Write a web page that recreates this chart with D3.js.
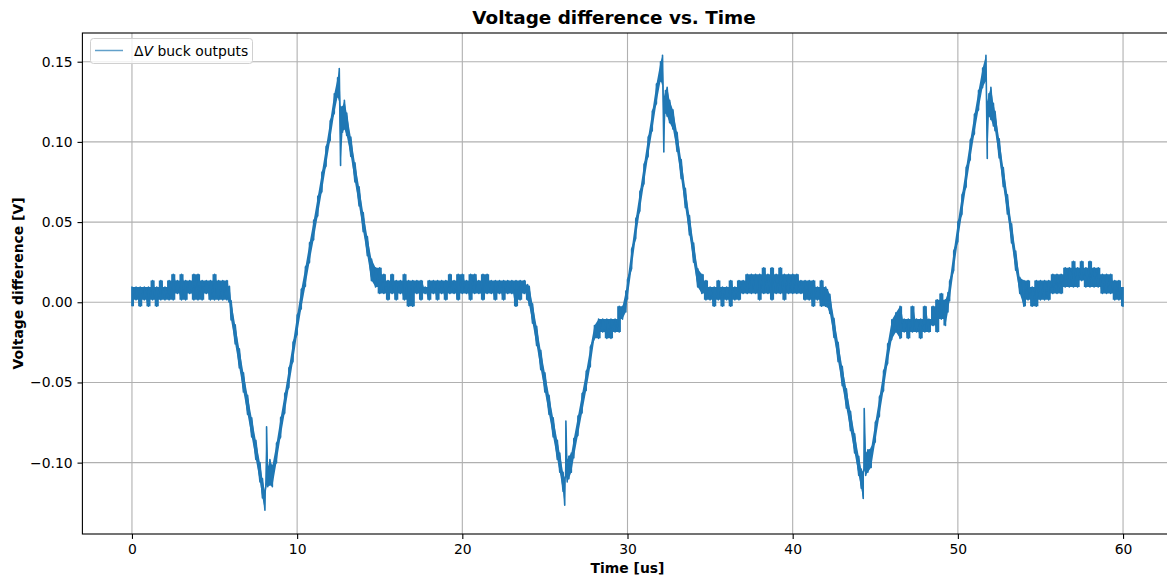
<!DOCTYPE html>
<html lang="en">
<head>
  <meta charset="UTF-8">
  <title>Voltage difference vs. Time</title>
  <style>
    body { margin: 0; background: #fff; }
    svg { font-family: 'DejaVu Sans', sans-serif; display: block; }
  </style>
</head>
<body>
  <svg id="svg" width="1167" height="577"></svg>

  <script src="https://d3js.org/d3.v7.min.js"></script>
  <script>
    // samples: time [us], lower and upper edge of the noise band [V]
    const timeUs = [
      0.00, 0.25, 0.50, 0.75, 1.00, 1.25, 1.50, 1.75, 2.00, 2.25, 2.50, 2.75, 3.00, 3.25, 3.50, 3.75,
      4.00, 4.25, 4.50, 4.75, 5.00, 5.25, 5.50, 5.75, 5.90,
      6.00, 6.25, 6.50, 6.75, 7.00, 7.25, 7.50, 7.75, 7.90, 8.05, 8.15, 8.22, 8.35,
      8.50, 8.75, 9.00, 9.25, 9.50, 9.75, 10.00, 10.25, 10.50, 10.75, 11.00, 11.25, 11.50, 11.75,
      12.00, 12.25, 12.45, 12.55, 12.63, 12.75, 12.86, 13.00,
      13.25, 13.50, 13.75, 14.00, 14.25, 14.50, 14.75,
      15.00, 15.25, 15.50, 15.75, 16.00, 16.25, 16.50, 16.75, 17.00, 17.25, 17.50, 17.75,
      18.00, 18.25, 18.50, 18.75, 19.00, 19.25, 19.50, 19.75, 20.00, 20.25, 20.50, 20.75,
      21.00, 21.25, 21.50, 21.75, 22.00, 22.25, 22.50, 22.75, 23.00, 23.25, 23.50, 23.75, 23.95,
      24.05, 24.25, 24.50, 24.75, 25.00, 25.25, 25.50, 25.75, 25.90, 26.10, 26.20, 26.27, 26.35, 26.45,
      26.60, 26.75, 27.00, 27.25, 27.50, 27.75, 28.00,
      28.25, 28.50, 28.75, 29.00, 29.25, 29.50, 29.70,
      29.90, 30.00, 30.25, 30.50, 30.75, 31.00, 31.25, 31.50, 31.75, 32.00, 32.12, 32.20, 32.30, 32.40, 32.55,
      32.75, 33.00, 33.25, 33.50, 33.75, 34.00, 34.25,
      34.50, 34.75, 35.00, 35.25, 35.50, 35.75, 36.00, 36.25, 36.50, 36.75, 37.00, 37.25, 37.50, 37.75,
      38.00, 38.25, 38.50, 38.75, 39.00, 39.25, 39.50, 39.75, 40.00, 40.25, 40.50, 40.75,
      41.00, 41.25, 41.50, 41.75, 42.00,
      42.10, 42.25, 42.50, 42.75, 43.00, 43.25, 43.50, 43.75, 44.00, 44.15, 44.27, 44.33, 44.42, 44.55,
      44.75, 45.00, 45.25, 45.50, 45.75, 46.00, 46.25,
      46.50, 46.75, 47.00, 47.25, 47.50, 47.75, 48.00, 48.25, 48.50, 48.75, 49.00, 49.25,
      49.40, 49.50, 49.75, 50.00, 50.25, 50.50, 50.75, 51.00, 51.25, 51.50, 51.70, 51.78, 51.88, 52.00, 52.15,
      52.25, 52.50, 52.75, 53.00, 53.25, 53.50, 53.75,
      54.00, 54.25, 54.50, 54.75, 55.00, 55.25, 55.50, 55.75, 56.00, 56.25, 56.50, 56.75,
      57.00, 57.25, 57.50, 57.75, 58.00, 58.25, 58.50, 58.75, 59.00, 59.25, 59.50, 59.75, 60.00
    ]

    const dvLow = [
      -0.0025, 0.0015, -0.0025, 0.0015, -0.0025, 0.0015, -0.0025, 0.0015, 0.0015, 0.0015, 0.0015, 0.0055, 0.0015, 0.0015, 0.0055, 0.0015,
      0.0015, 0.0015, 0.0055, 0.0015, 0.0015, 0.0015, 0.0015, 0.0015, 0.0000,
      -0.011, -0.026, -0.041, -0.056, -0.070, -0.084, -0.098, -0.112, -0.122, -0.1297, -0.112, -0.115, -0.114,
      -0.115, -0.100, -0.084, -0.069, -0.053, -0.037, -0.020, -0.004, 0.010, 0.025, 0.039, 0.054, 0.069, 0.085,
      0.101, 0.118, 0.128, 0.126, 0.0853, 0.106, 0.108, 0.104,
      0.091, 0.075, 0.060, 0.044, 0.029, 0.0135, 0.0095,
      0.0055, 0.0055, 0.0015, 0.0055, 0.0015, 0.0055, 0.0015, -0.0025, -0.0025, 0.0055, 0.0015, 0.0055,
      0.0015, 0.0055, 0.0015, 0.0055, 0.0015, 0.0055, 0.0055, 0.0015, 0.0055, 0.0055, 0.0015, 0.0055,
      0.0055, 0.0015, 0.0055, 0.0055, 0.0015, 0.0055, 0.0015, 0.0055, 0.0055, -0.0025, 0.0015, 0.0055, 0.0015,
      -0.002, -0.013, -0.027, -0.042, -0.056, -0.070, -0.084, -0.098, -0.106, -0.118, -0.1266, -0.108, -0.112, -0.110,
      -0.106, -0.097, -0.083, -0.069, -0.055, -0.040, -0.0225,
      -0.0225, -0.0185, -0.0225, -0.0225, -0.0185, -0.0185, -0.0105,
      -0.006, 0.002, 0.021, 0.040, 0.057, 0.074, 0.091, 0.107, 0.124, 0.138, 0.136, 0.0937, 0.118, 0.116, 0.112,
      0.108, 0.094, 0.077, 0.059, 0.042, 0.025, 0.0095,
      0.0055, 0.0015, 0.0015, -0.0025, 0.0015, -0.0025, 0.0015, -0.0025, 0.0015, 0.0015, 0.0055, 0.0055, 0.0055, 0.0055,
      0.0015, 0.0055, 0.0055, 0.0015, 0.0055, 0.0055, 0.0015, 0.0055, 0.0055, 0.0055, 0.0055, 0.0015,
      0.0015, -0.0025, 0.0015, -0.0025, -0.0025,
      -0.003, -0.007, -0.022, -0.037, -0.052, -0.066, -0.080, -0.094, -0.108, -0.116, -0.1224, -0.104, -0.108, -0.106,
      -0.103, -0.087, -0.071, -0.055, -0.038, -0.023, -0.0185,
      -0.0225, -0.0185, -0.0225, -0.0185, -0.0185, -0.0225, -0.0185, -0.0185, -0.0145, -0.0185, -0.0105, -0.0145,
      -0.006, 0.001, 0.020, 0.038, 0.055, 0.072, 0.089, 0.105, 0.120, 0.134, 0.138, 0.0896, 0.116, 0.114, 0.110,
      0.107, 0.090, 0.072, 0.055, 0.037, 0.020, 0.0055,
      -0.0025, 0.0015, -0.0025, -0.0025, 0.0015, 0.0015, 0.0015, 0.0055, 0.0055, 0.0055, 0.0095, 0.0095,
      0.0095, 0.0095, 0.0135, 0.0095, 0.0095, 0.0095, 0.0095, 0.0055, 0.0055, 0.0055, 0.0015, 0.0015, -0.0025
    ]

    const dvHigh = [
      0.0095, 0.0095, 0.0095, 0.0095, 0.0095, 0.0135, 0.0095, 0.0135, 0.0095, 0.0135, 0.0175, 0.0135, 0.0175, 0.0135, 0.0135, 0.0175,
      0.0175, 0.0135, 0.0135, 0.0135, 0.0175, 0.0135, 0.0135, 0.0135, 0.0100,
      0.001, -0.014, -0.029, -0.044, -0.058, -0.072, -0.086, -0.100, -0.110, -0.118, -0.0777, -0.103, -0.098,
      -0.102, -0.088, -0.072, -0.057, -0.041, -0.025, -0.008, 0.008, 0.022, 0.037, 0.051, 0.066, 0.081, 0.097,
      0.113, 0.130, 0.140, 0.1457, 0.122, 0.122, 0.126, 0.118,
      0.103, 0.087, 0.072, 0.056, 0.041, 0.027, 0.0215,
      0.0215, 0.0175, 0.0135, 0.0175, 0.0135, 0.0135, 0.0175, 0.0135, 0.0135, 0.0135, 0.0135, 0.0095,
      0.0135, 0.0135, 0.0135, 0.0135, 0.0135, 0.0175, 0.0135, 0.0175, 0.0175, 0.0135, 0.0175, 0.0175,
      0.0135, 0.0175, 0.0175, 0.0135, 0.0135, 0.0135, 0.0135, 0.0135, 0.0135, 0.0135, 0.0135, 0.0135, 0.0110,
      0.010, -0.001, -0.015, -0.030, -0.044, -0.058, -0.072, -0.086, -0.094, -0.106, -0.110, -0.074, -0.098, -0.096,
      -0.094, -0.085, -0.071, -0.057, -0.043, -0.028, -0.0145,
      -0.0105, -0.0105, -0.0105, -0.0105, -0.0105, -0.0025, -0.0025,
      0.007, 0.014, 0.033, 0.052, 0.069, 0.086, 0.103, 0.119, 0.136, 0.150, 0.154, 0.128, 0.132, 0.134, 0.126,
      0.120, 0.106, 0.089, 0.071, 0.054, 0.037, 0.021,
      0.0175, 0.0135, 0.0095, 0.0095, 0.0135, 0.0095, 0.0095, 0.0135, 0.0095, 0.0135, 0.0135, 0.0175, 0.0175, 0.0175,
      0.0175, 0.0215, 0.0175, 0.0215, 0.0175, 0.0215, 0.0175, 0.0175, 0.0175, 0.0175, 0.0135, 0.0135,
      0.0135, 0.0135, 0.0095, 0.0135, 0.0095,
      0.008, 0.005, -0.010, -0.025, -0.040, -0.054, -0.068, -0.082, -0.096, -0.104, -0.106, -0.0663, -0.094, -0.092,
      -0.091, -0.075, -0.059, -0.043, -0.026, -0.011, -0.0065,
      -0.0025, -0.0105, -0.0105, -0.0025, -0.0105, -0.0105, -0.0025, -0.0105, -0.0025, 0.0015, 0.0055, 0.0015,
      0.006, 0.013, 0.032, 0.050, 0.067, 0.084, 0.101, 0.117, 0.132, 0.146, 0.154, 0.125, 0.130, 0.134, 0.124,
      0.119, 0.102, 0.084, 0.067, 0.049, 0.032, 0.0155,
      0.0135, 0.0135, 0.0095, 0.0135, 0.0135, 0.0135, 0.0135, 0.0175, 0.0175, 0.0175, 0.0215, 0.0215,
      0.0255, 0.0215, 0.0255, 0.0215, 0.0255, 0.0215, 0.0215, 0.0175, 0.0175, 0.0175, 0.0135, 0.0135, 0.0095
    ]

    // stretches where the trace sits flat in quantisation noise [us]
    const flatSpans = [[0, 5.9], [14.75, 23.95], [28.25, 29.7], [34.5, 42.0], [46.5, 49.25], [54.0, 60.0]]

    const xTicks = [0, 10, 20, 30, 40, 50, 60]
    const yTicks = [-0.10, -0.05, 0.00, 0.05, 0.10, 0.15]

    const margin = { top: 33, left: 82.4, bottom: 534, right: 1172.6 }
    const blue = '#1f77b4'

    const svg = d3.select('#svg')

    const xscale = d3.scaleLinear()
      .domain([-3, 63])
      .range([margin.left, margin.right])

    const yscale = d3.scaleLinear()
      .domain([-0.1445, 0.1679])
      .range([margin.bottom, margin.top])

    // grid
    const grid = svg.append('g')
    grid.selectAll('line.gx')
      .data(xTicks)
      .enter()
      .append('line')
      .attr('x1', d => xscale(d)).attr('x2', d => xscale(d))
      .attr('y1', margin.top).attr('y2', margin.bottom)
      .attr('stroke', '#b0b0b0').attr('stroke-width', 1.1)
    grid.selectAll('line.gy')
      .data(yTicks)
      .enter()
      .append('line')
      .attr('x1', margin.left).attr('x2', margin.right)
      .attr('y1', d => yscale(d)).attr('y2', d => yscale(d))
      .attr('stroke', '#b0b0b0').attr('stroke-width', 1.1)

    // trace: the dense noise fills the band between low and high edge,
    // and a zig-zag across the band at each sample gives the vertical hairlines
    const idx = d3.range(timeUs.length)
    const isFlat = i => i >= 0 && i < timeUs.length &&
      flatSpans.some(([a, b]) => timeUs[i] >= a && timeUs[i] <= b)

    const band = d3.area()
      .x(i => xscale(timeUs[i]))
      .y0(i => yscale(dvLow[i]))
      .y1(i => yscale(dvHigh[i]))

    // flat parts: step band, so single noisy samples stay narrow
    svg.append('path')
      .datum(idx)
      .attr('d', band.defined(i => isFlat(i)).curve(d3.curveStep))
      .attr('fill', blue)

    // edges: straight band between samples
    svg.append('path')
      .datum(idx)
      .attr('d', band.defined(i => !isFlat(i) || !isFlat(i - 1) || !isFlat(i + 1)).curve(d3.curveLinear))
      .attr('fill', blue)

    const pts = []
    idx.forEach(i => {
      pts.push([timeUs[i], dvLow[i]], [timeUs[i], dvHigh[i]])
    })

    const line = d3.line()
      .x(d => xscale(d[0]))
      .y(d => yscale(d[1]))

    svg.append('path')
      .datum(pts)
      .attr('d', line)
      .attr('fill', 'none')
      .attr('stroke', blue)
      .attr('stroke-width', 1.6)
      .attr('stroke-linejoin', 'round')

    // axes
    const bottomAxis = d3.axisBottom(xscale)
      .tickValues(xTicks)
      .tickSize(4.9)
      .tickSizeOuter(0)
      .tickPadding(4.9)
    const gx = svg.append('g')
      .attr('transform', `translate(0, ${margin.bottom})`)
      .call(bottomAxis)

    const leftAxis = d3.axisLeft(yscale)
      .tickValues(yTicks)
      .tickFormat(d3.format('.2f'))
      .tickSize(4.9)
      .tickSizeOuter(0)
      .tickPadding(4.9)
    const gy = svg.append('g')
      .attr('transform', `translate(${margin.left}, 0)`)
      .call(leftAxis)

    for (const g of [gx, gy]) {
      g.select('.domain').remove()
      g.selectAll('.tick line').attr('stroke', '#000').attr('stroke-width', 1.1)
      g.selectAll('.tick text')
        .attr('fill', '#000')
        .style('font-family', 'DejaVu Sans')
        .style('font-size', '13.9px')
    }

    // spines
    svg.append('rect')
      .attr('x', margin.left).attr('y', margin.top)
      .attr('width', margin.right - margin.left)
      .attr('height', margin.bottom - margin.top)
      .attr('fill', 'none')
      .attr('stroke', '#000')
      .attr('stroke-width', 1.1)

    // title and labels
    svg.append('text')
      .attr('x', 614).attr('y', 24)
      .attr('text-anchor', 'middle')
      .style('font-size', '18.4px').style('font-weight', 'bold')
      .text('Voltage difference vs. Time')

    svg.append('text')
      .attr('x', (margin.left + margin.right) / 2).attr('y', 573)
      .attr('text-anchor', 'middle')
      .style('font-size', '13.9px').style('font-weight', 'bold')
      .text('Time [us]')

    svg.append('text')
      .attr('transform', `translate(23, ${(margin.top + margin.bottom) / 2}) rotate(-90)`)
      .attr('text-anchor', 'middle')
      .style('font-size', '13.9px').style('font-weight', 'bold')
      .text('Voltage difference [V]')

    // legend
    const legend = svg.append('g')
    legend.append('rect')
      .attr('x', 90.5).attr('y', 38.5)
      .attr('width', 162).attr('height', 25)
      .attr('rx', 3)
      .attr('fill', '#fff').attr('fill-opacity', 0.8)
      .attr('stroke', '#d0d0d0')
    legend.append('line')
      .attr('x1', 95).attr('x2', 123)
      .attr('y1', 50.5).attr('y2', 50.5)
      .attr('stroke', blue).attr('stroke-opacity', 0.7)
      .attr('stroke-width', 1.5)
    const lt = legend.append('text')
      .attr('x', 134).attr('y', 56)
      .style('font-size', '13.9px')
    lt.append('tspan').text('Δ')
    lt.append('tspan').style('font-style', 'italic').text('V')
    lt.append('tspan').text(' buck outputs')
  </script>
</body>
</html>
